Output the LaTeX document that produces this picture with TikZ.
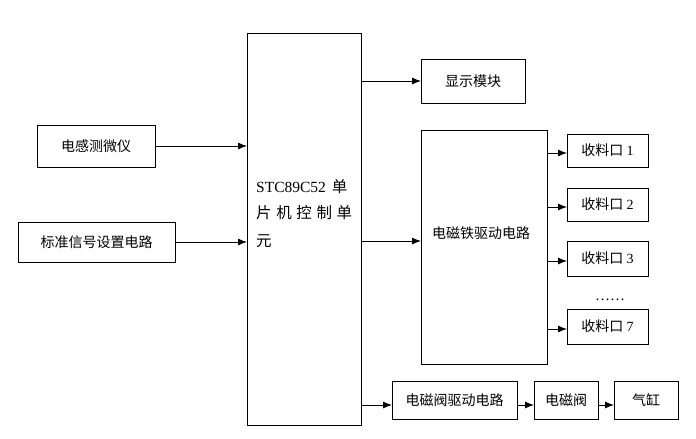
\documentclass[tikz,border=0pt]{standalone}
\usepackage{fontspec}
\setmainfont{Liberation Serif}
\newfontfamily\cjk{Noto Sans CJK SC}
\usetikzlibrary{arrows.meta,calc}
\begin{document}
\begin{tikzpicture}[x=1pt,y=-1pt,
  box/.style={draw,line width=0.9pt,inner sep=0pt,outer sep=0pt,anchor=north west,
              font=\cjk\fontsize{14}{16}\selectfont},
  txt/.style={inner sep=0pt,anchor=west,font=\fontsize{15.5}{18}\selectfont},
  arr/.style={line width=0.9pt,-{Latex[length=9pt,width=7pt]}}]
\useasboundingbox (0,0) rectangle (696,439);
% inputs
\node[box,minimum width=118pt,minimum height=42pt] (sensor) at (37,125) {电感测微仪};
\node[box,minimum width=157pt,minimum height=40pt] (stdsig) at (18,222) {标准信号设置电路};
% main controller
\node[box,minimum width=114pt,minimum height=392pt] (main) at (247,33) {};
\node[txt] (l1) at (256,187) {STC89C52\hspace{6pt}{\cjk 单}};
\node[txt] (l2) at (256,213) {\makebox[96pt][s]{\cjk 片\hfil 机\hfil 控\hfil 制\hfil 单}};
\node[txt] (l3) at (256,241) {\cjk 元};
% outputs
\node[box,minimum width=104pt,minimum height=44pt] (disp) at (421,59) {显示模块};
\node[box,minimum width=126pt,minimum height=234pt] (mag) at (421,130) {};
\node[inner sep=0pt,font=\cjk\fontsize{14}{16}\selectfont] (magtxt) at (481,233) {电磁铁驱动电路};
\node[box,minimum width=81pt,minimum height=33pt] (r1) at (567,134) {收料口 {\rmfamily 1}};
\node[box,minimum width=81pt,minimum height=33pt] (r2) at (567,188) {收料口 {\rmfamily 2}};
\node[box,minimum width=81pt,minimum height=35pt] (r3) at (567,241) {收料口 {\rmfamily 3}};
\node[box,minimum width=81pt,minimum height=35pt] (r7) at (567,309) {收料口 {\rmfamily 7}};
\node[inner sep=0pt,font=\fontsize{15}{16}\selectfont] (dots) at (610,300) {……};
% bottom row
\node[box,minimum width=125pt,minimum height=38pt] (vdrv) at (392,381) {电磁阀驱动电路};
\node[box,minimum width=64pt,minimum height=38pt] (valve) at (534,381) {电磁阀};
\node[box,minimum width=64pt,minimum height=38pt] (cyl) at (614,381) {气缸};
% connectors
\draw[arr] (sensor.east) -- (main.west |- sensor.east);
\draw[arr] (stdsig.east) -- (main.west |- stdsig.east);
\draw[arr] (main.east |- disp.west) -- (disp.west);
\coordinate (m3) at (361,241);
\draw[arr] (m3) -- (mag.west |- m3);
\foreach \r in {r1,r2,r3,r7}
  \draw[arr] ([yshift=-2.5pt]mag.east |- \r.west) -- ([yshift=-2.5pt]\r.west);
\coordinate (m4) at (361,405);
\draw[arr] (m4) -- (vdrv.west |- m4);
\draw[arr] ([yshift=-5pt]vdrv.east) -- ([yshift=-5pt]valve.west);
\draw[arr] ([yshift=-5pt]valve.east) -- ([yshift=-5pt]cyl.west);
\end{tikzpicture}
\end{document}
